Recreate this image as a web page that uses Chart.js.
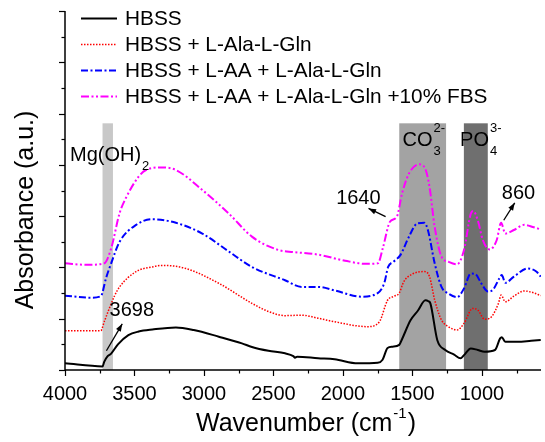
<!DOCTYPE html>
<html>
<head>
<meta charset="utf-8">
<script src="https://cdn.jsdelivr.net/npm/chart.js@4.4.0/dist/chart.umd.min.js"></script>
<style>
  body { margin: 0; background: #fff; }
  #wrap { width: 545px; height: 442px; }
</style>
</head>
<body>
<div id="wrap"><canvas id="myChart" width="545" height="442"></canvas></div>
<script>
// series data (wavenumber cm-1, absorbance a.u. with offsets)
const seriesNames = ['HBSS', 'HBSS + L-Ala-L-Gln', 'HBSS + L-AA + L-Ala-L-Gln', 'HBSS + L-AA + L-Ala-L-Gln +10% FBS'];

const hbssWn = [4000, 3730, 3718, 3693, 3668, 3619, 3544, 3470, 3371, 3202, 3074, 2893, 2727, 2655, 2536, 2417, 2357, 2345, 2330, 2179, 2060, 1893, 1750, 1715, 1679, 1643, 1595, 1575, 1514, 1460, 1407, 1385, 1371, 1321, 1264, 1200, 1154, 1129, 1080, 1030, 981, 906, 869, 857, 832, 745, 646, 577];
const hbssAbs = [0.13, 0.07, 0.16, 0.27, 0.32, 0.5, 0.68, 0.75, 0.79, 0.83, 0.78, 0.65, 0.52, 0.45, 0.375, 0.325, 0.27, 0.24, 0.26, 0.23, 0.21, 0.13, 0.14, 0.2, 0.43, 0.455, 0.49, 0.6, 0.97, 1.16, 1.36, 1.34, 1.3, 0.58, 0.39, 0.3, 0.227, 0.29, 0.42, 0.39, 0.357, 0.39, 0.617, 0.64, 0.55, 0.55, 0.57, 0.585];

const alaWn = [4000, 3742, 3718, 3643, 3607, 3488, 3371, 3300, 3131, 2893, 2655, 2536, 2417, 2298, 2179, 2060, 1821, 1738, 1679, 1631, 1595, 1563, 1501, 1414, 1377, 1340, 1291, 1241, 1179, 1129, 1067, 1030, 981, 931, 881, 862, 832, 770, 696, 634, 577];
const alaAbs = [0.767, 0.767, 0.94, 1.45, 1.62, 1.92, 2.01, 2.04, 1.98, 1.69, 1.3, 1.14, 1.06, 1.07, 1.01, 0.94, 0.845, 0.94, 1.36, 1.44, 1.5, 1.72, 1.87, 1.92, 1.82, 1.365, 0.975, 0.845, 0.78, 0.91, 1.2, 1.17, 0.99, 1.04, 1.3, 1.46, 1.33, 1.44, 1.54, 1.51, 1.45];

const aaWn = [4000, 3817, 3742, 3705, 3668, 3607, 3488, 3371, 3202, 3012, 2821, 2655, 2417, 2298, 2179, 2058, 1869, 1750, 1702, 1675, 1637, 1587, 1525, 1464, 1414, 1389, 1340, 1291, 1241, 1179, 1129, 1080, 1047, 1005, 956, 919, 874, 857, 832, 770, 671, 609, 577];
const aaAbs = [1.45, 1.41, 1.44, 1.79, 2.08, 2.5, 2.83, 2.94, 2.87, 2.66, 2.31, 2.01, 1.75, 1.62, 1.62, 1.55, 1.43, 1.5, 1.7, 2.01, 2.11, 2.24, 2.6, 2.86, 2.87, 2.73, 2.08, 1.62, 1.49, 1.42, 1.59, 1.88, 1.87, 1.69, 1.53, 1.57, 1.79, 1.85, 1.70, 1.82, 1.98, 1.92, 1.82];

const fbsWn = [4000, 3841, 3718, 3668, 3607, 3557, 3470, 3417, 3300, 3202, 3012, 2821, 2655, 2464, 2355, 2179, 1984, 1835, 1749, 1711, 1662, 1612, 1575, 1525, 1451, 1409, 1377, 1340, 1291, 1241, 1179, 1129, 1080, 1062, 1030, 993, 944, 894, 862, 832, 770, 696, 634, 577];
const fbsAbs = [2.08, 2.05, 2.08, 2.37, 3.06, 3.38, 3.77, 3.9, 3.95, 3.9, 3.51, 3.05, 2.6, 2.34, 2.3, 2.25, 2.13, 2.07, 2.08, 2.4, 2.89, 2.99, 3.44, 3.83, 4.01, 3.93, 3.57, 2.79, 2.21, 2.11, 2.06, 2.34, 3.05, 3.1, 2.92, 2.53, 2.35, 2.53, 2.87, 2.66, 2.73, 2.83, 2.79, 2.74];

// shaded bands: Mg(OH)2, CO3, PO4
const bandFrom = [3730, 1595, 1130];
const bandTo = [3655, 1258, 958];
const bandColors = ['#c8c8c8', '#a3a3a3', '#6f6f6f'];
const bandTop = 4.81;

// x tick labels shown every 500
const xLabelStep = 500;

function pts(wn, ab) {
  return wn.map((w, i) => ({ x: w, y: ab[i] }));
}

const FONT = '"Liberation Sans", Arial, sans-serif';

const bandsPlugin = {
  id: 'bands',
  beforeDatasetsDraw(chart) {
    const ctx = chart.ctx;
    const x = chart.scales.x, y = chart.scales.y;
    ctx.save();
    for (let i = 0; i < bandFrom.length; i++) {
      const x1 = x.getPixelForValue(bandFrom[i]);
      const x2 = x.getPixelForValue(bandTo[i]);
      const yt = y.getPixelForValue(bandTop);
      const yb = y.getPixelForValue(0);
      ctx.fillStyle = bandColors[i];
      ctx.fillRect(Math.min(x1, x2), yt, Math.abs(x2 - x1), yb - yt);
    }
    ctx.restore();
  }
};

function arrow(ctx, x0, y0, x1, y1) {
  ctx.beginPath();
  ctx.moveTo(x0, y0);
  ctx.lineTo(x1, y1);
  ctx.stroke();
  const a = Math.atan2(y1 - y0, x1 - x0);
  ctx.beginPath();
  ctx.moveTo(x1, y1);
  ctx.lineTo(x1 - 8 * Math.cos(a - 0.35), y1 - 8 * Math.sin(a - 0.35));
  ctx.lineTo(x1 - 8 * Math.cos(a + 0.35), y1 - 8 * Math.sin(a + 0.35));
  ctx.closePath();
  ctx.fill();
}

// text with optional sub/superscript stacked after it
function chemText(ctx, txt, sup, sub, px, py) {
  ctx.font = '20px ' + FONT;
  ctx.textAlign = 'left';
  ctx.textBaseline = 'middle';
  ctx.fillText(txt, px, py);
  const w = ctx.measureText(txt).width;
  ctx.font = '13px ' + FONT;
  if (sup) ctx.fillText(sup, px + w + 1, py - 12);
  if (sub) ctx.fillText(sub, px + w + 1, py + 11);
}

const decoPlugin = {
  id: 'deco',
  afterDraw(chart) {
    const ctx = chart.ctx;
    const x = chart.scales.x, y = chart.scales.y;
    const ca = chart.chartArea;
    ctx.save();
    ctx.strokeStyle = '#000';
    ctx.fillStyle = '#000';
    ctx.lineWidth = 1.5;
    ctx.setLineDash([]);

    // axis lines
    ctx.beginPath();
    ctx.moveTo(ca.left, ca.top);
    ctx.lineTo(ca.left, ca.bottom);
    ctx.lineTo(ca.right, ca.bottom);
    ctx.stroke();

    // y ticks (outward), major every 1, minor every 0.5
    ctx.lineWidth = 1.2;
    for (let v = 0; v <= 7.001; v += 0.5) {
      const py = Math.round(y.getPixelForValue(v)) + 0.5;
      const len = Number.isInteger(v) ? 6 : 3.5;
      ctx.beginPath();
      ctx.moveTo(ca.left, py);
      ctx.lineTo(ca.left - len, py);
      ctx.stroke();
    }
    // x ticks (outward), major every 500, minor every 250
    for (let w = 4000; w >= x.min; w -= 250) {
      const px = Math.round(x.getPixelForValue(w)) + 0.5;
      const len = (w % 500 === 0) ? 6 : 3.5;
      ctx.beginPath();
      ctx.moveTo(px, ca.bottom);
      ctx.lineTo(px, ca.bottom + len);
      ctx.stroke();
    }

    // axis titles
    ctx.font = '25px ' + FONT;
    ctx.textBaseline = 'alphabetic';
    const t1 = 'Wavenumber (cm';
    const t1w = ctx.measureText(t1).width;
    ctx.font = '15px ' + FONT;
    const supW = ctx.measureText('-1').width;
    ctx.font = '25px ' + FONT;
    const closeW = ctx.measureText(')').width;
    const total = t1w + supW + closeW + 2;
    let sx = 306 - total / 2;
    ctx.textAlign = 'left';
    ctx.fillText(t1, sx, 431);
    ctx.font = '15px ' + FONT;
    ctx.fillText('-1', sx + t1w + 1, 418);
    ctx.font = '25px ' + FONT;
    ctx.fillText(')', sx + t1w + supW + 2, 431);

    ctx.save();
    ctx.translate(33, 210);
    ctx.rotate(-Math.PI / 2);
    ctx.textAlign = 'center';
    ctx.fillText('Absorbance (a.u.)', 0, 0);
    ctx.restore();

    // annotations, placed in data units
    chemText(ctx, 'Mg(OH)', '', '2', x.getPixelForValue(3964), y.getPixelForValue(4.19));
    chemText(ctx, 'CO', '2-', '3', x.getPixelForValue(1571), y.getPixelForValue(4.48));
    chemText(ctx, 'PO', '3-', '4', x.getPixelForValue(1157), y.getPixelForValue(4.48));

    ctx.font = '20px ' + FONT;
    ctx.textBaseline = 'middle';
    ctx.textAlign = 'left';
    ctx.fillText('3698', x.getPixelForValue(3679), y.getPixelForValue(1.17));
    ctx.fillText('860', x.getPixelForValue(857), y.getPixelForValue(3.45));
    ctx.textAlign = 'right';
    ctx.fillText('1640', x.getPixelForValue(1729), y.getPixelForValue(3.35));

    ctx.lineWidth = 1.3;
    arrow(ctx, x.getPixelForValue(3702), y.getPixelForValue(0.376), x.getPixelForValue(3588), y.getPixelForValue(0.9));
    arrow(ctx, x.getPixelForValue(1693), y.getPixelForValue(2.99), x.getPixelForValue(1816), y.getPixelForValue(3.15));
    arrow(ctx, x.getPixelForValue(843), y.getPixelForValue(2.92), x.getPixelForValue(764), y.getPixelForValue(3.26));

    // legend
    const ds = chart.data.datasets;
    ds.forEach((d, i) => {
      const ly = Math.round(ca.top + 7 + i * 26) + 0.5;
      ctx.strokeStyle = d.borderColor;
      ctx.lineWidth = d.borderWidth;
      ctx.setLineDash(d.borderDash || []);
      ctx.beginPath();
      ctx.moveTo(ca.left + 16, ly);
      ctx.lineTo(ca.left + 52, ly);
      ctx.stroke();
      ctx.setLineDash([]);
      ctx.fillStyle = '#000';
      ctx.font = '20.8px ' + FONT;
      ctx.textAlign = 'left';
      ctx.textBaseline = 'middle';
      ctx.fillText(d.label, ca.left + 60, ly + 1);
    });
    ctx.restore();
  }
};

const ctx = document.getElementById('myChart').getContext('2d');
const myChart = new Chart(ctx, {
  type: 'line',
  data: {
    datasets: [
      {
        label: seriesNames[0],
        data: pts(hbssWn, hbssAbs),
        borderColor: '#000000',
        borderWidth: 2,
        borderDash: []
      },
      {
        label: seriesNames[1],
        data: pts(alaWn, alaAbs),
        borderColor: '#ff0000',
        borderWidth: 1.5,
        borderDash: [1.5, 1.5]
      },
      {
        label: seriesNames[2],
        data: pts(aaWn, aaAbs),
        borderColor: '#0000ff',
        borderWidth: 2,
        borderDash: [7, 2.5, 2, 2.5]
      },
      {
        label: seriesNames[3],
        data: pts(fbsWn, fbsAbs),
        borderColor: '#ff00ff',
        borderWidth: 2,
        borderDash: [8, 2.5, 2, 2.5, 2, 2.5]
      }
    ]
  },
  options: {
    responsive: false,
    animation: false,
    devicePixelRatio: 1,
    layout: { padding: { top: 11, right: 0, left: 0, bottom: 0 } },
    elements: {
      point: { radius: 0 },
      line: { cubicInterpolationMode: 'monotone', fill: false }
    },
    plugins: {
      legend: { display: false },
      tooltip: { enabled: false }
    },
    scales: {
      x: {
        type: 'linear',
        reverse: true,
        min: 575,
        max: 4000,
        grid: { display: false },
        border: { display: false },
        ticks: {
          stepSize: 250,
          autoSkip: false,
          maxRotation: 0,
          padding: 4,
          color: '#000',
          font: { family: FONT, size: 20 },
          callback: v => (v % xLabelStep === 0 ? String(v) : '')
        },
        afterFit: s => { s.height = 72; }
      },
      y: {
        min: 0,
        max: 7,
        grid: { display: false },
        border: { display: false },
        ticks: { display: false, stepSize: 0.5 },
        afterFit: s => { s.width = 65; }
      }
    }
  },
  plugins: [bandsPlugin, decoPlugin]
});
</script>
</body>
</html>
